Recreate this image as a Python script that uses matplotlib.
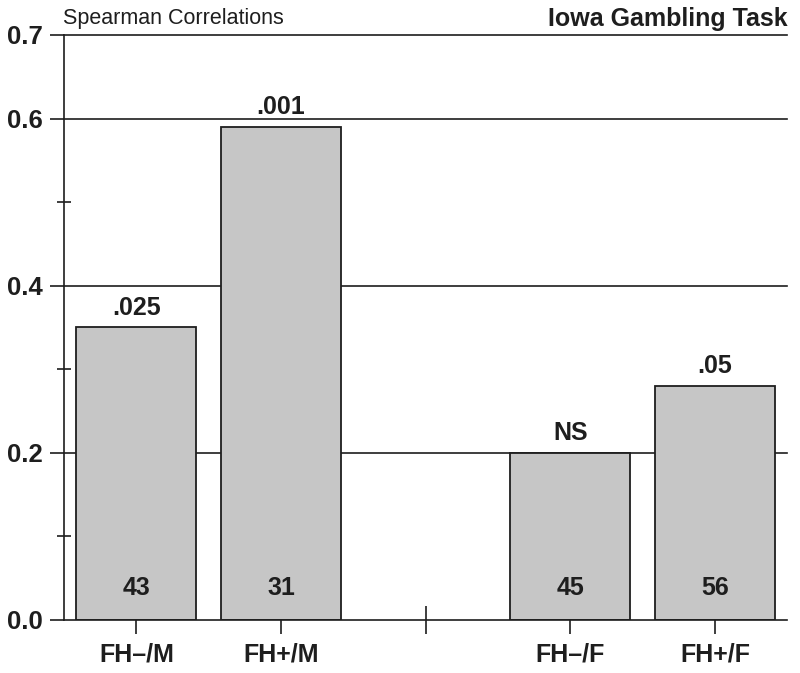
import matplotlib.pyplot as plt
from matplotlib.ticker import FixedLocator

# data
groups = ["FH\u2013/M", "FH+/M", "FH\u2013/F", "FH+/F"]
positions = [0, 1, 3, 4]
rho = [0.35, 0.59, 0.20, 0.28]
p_labels = [".025", ".001", "NS", ".05"]
n_labels = ["43", "31", "45", "56"]

plt.rcParams['font.family'] = ['Liberation Sans', 'DejaVu Sans']
ink = "#1e1e1e"

fig = plt.figure(figsize=(8, 6.73), dpi=100)
ax = fig.add_axes([0.08, 0.079, 0.904, 0.869])

# horizontal reference lines
for yv in [0.2, 0.4, 0.6, 0.7]:
    ax.axhline(yv, color=ink, lw=1.2, zorder=0, clip_on=False)

ax.bar(positions, rho, width=0.83, color="#c6c6c6", edgecolor=ink,
       linewidth=1.3, zorder=2)

for x, v, p, n in zip(positions, rho, p_labels, n_labels):
    ax.annotate(p, (x, v), xytext=(0, 9), textcoords="offset points",
                ha="center", va="baseline", fontsize=18, fontweight="bold",
                color=ink)
    ax.text(x, 0.038, n, ha="center", va="center", fontsize=18,
            fontweight="bold", color=ink, zorder=3)

ax.set_xlim(-0.5, 4.5)
ax.set_ylim(0, 0.7)

ax.set_xticks(positions)
ax.set_xticklabels(groups, fontsize=18, fontweight="bold", color=ink)
ax.xaxis.set_minor_locator(FixedLocator([2]))
ax.set_yticks([0.0, 0.2, 0.4, 0.6, 0.7])
ax.set_yticklabels(["0.0", "0.2", "0.4", "0.6", "0.7"], fontsize=18.5,
                   fontweight="bold", color=ink)
ax.yaxis.set_minor_locator(FixedLocator([0.1, 0.3, 0.5]))

ax.tick_params(axis="both", which="major", direction="out", length=10,
               width=1.2, color=ink, pad=5)
ax.tick_params(axis="x", which="major", pad=6)
ax.tick_params(axis="x", which="minor", direction="inout", length=20,
               width=1.2, color=ink)
ax.tick_params(axis="y", which="minor", direction="inout", length=10,
               width=1.2, color=ink)

for s in ["top", "right"]:
    ax.spines[s].set_visible(False)
for s in ["left", "bottom"]:
    ax.spines[s].set_color(ink)
    ax.spines[s].set_linewidth(1.2)

fig.text(0.079, 0.988, "Spearman Correlations", ha="left", va="top",
         fontsize=15.5, color=ink)
fig.text(0.984, 0.99, "Iowa Gambling Task", ha="right", va="top",
         fontsize=18, fontweight="bold", color=ink)

fig.savefig("out.png", dpi=100)
